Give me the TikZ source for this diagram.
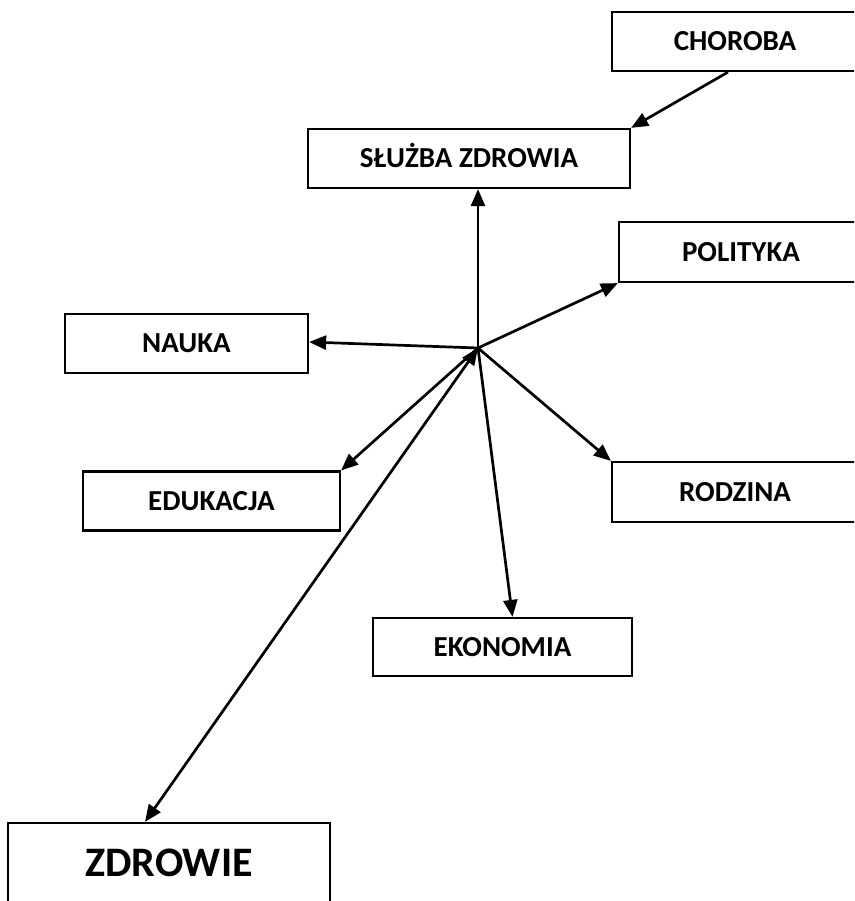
\documentclass[tikz,border=0pt]{standalone}
\usepackage{fontspec}
\setmainfont{Carlito}
\usepackage{tikz}
\usetikzlibrary{arrows.meta, calc}

\begin{document}
\begin{tikzpicture}[x=1pt, y=-1pt,
  box/.style={draw, line width=2.2pt, minimum height=59pt, inner sep=0pt,
    text height=18.7pt, text depth=0pt, font=\fontsize{29}{34}\selectfont\bfseries},
  bigbox/.style={box, minimum height=80pt, text height=27pt,
    font=\fontsize{42}{48}\selectfont\bfseries},
  link/.style={line width=2.7pt, -{Triangle[length=17pt,width=14pt]}}]
\useasboundingbox (0,0) rectangle (854,901);
\clip (0,0) rectangle (854,901);
% boxes
\node[box, minimum width=246pt] (choroba) at (735,41.5) {CHOROBA};
\node[box, minimum width=322pt] (sluzba) at (469,158.5) {SŁUŻBA ZDROWIA};
\node[box, minimum width=244pt, minimum height=60pt] (polityka) at (741,252) {POLITYKA};
\node[box, minimum width=243pt] (nauka) at (186.5,343.5) {NAUKA};
\node[box, minimum width=257pt] (edukacja) at (211.5,501) {EDUKACJA};
\node[box, minimum width=246pt, minimum height=60pt] (rodzina) at (735,492) {RODZINA};
\node[box, minimum width=259pt, minimum height=58pt] (ekonomia) at (502.5,647) {EKONOMIA};
\node[bigbox, minimum width=322pt] (zdrowie) at (169,863) {ZDROWIE};
\coordinate (hub) at (478,348);
% arrows
\draw[link] ([xshift=-7pt]choroba.south) -- (sluzba.north east);
\draw[link] (hub) -- (hub |- sluzba.south);
\draw[link] (hub) -- (polityka.south west);
\draw[link] (hub) -- ([yshift=1.5pt]nauka.east);
\draw[link] (hub) -- (edukacja.north east);
\draw[link] (hub) -- (rodzina.north west);
\draw[link] (hub) -- ([xshift=10pt]ekonomia.north);
\draw[link, {Triangle[length=17pt,width=14pt]}-{Triangle[length=17pt,width=14pt]}] ([xshift=-24pt]zdrowie.north) -- (hub);
\end{tikzpicture}
\end{document}
